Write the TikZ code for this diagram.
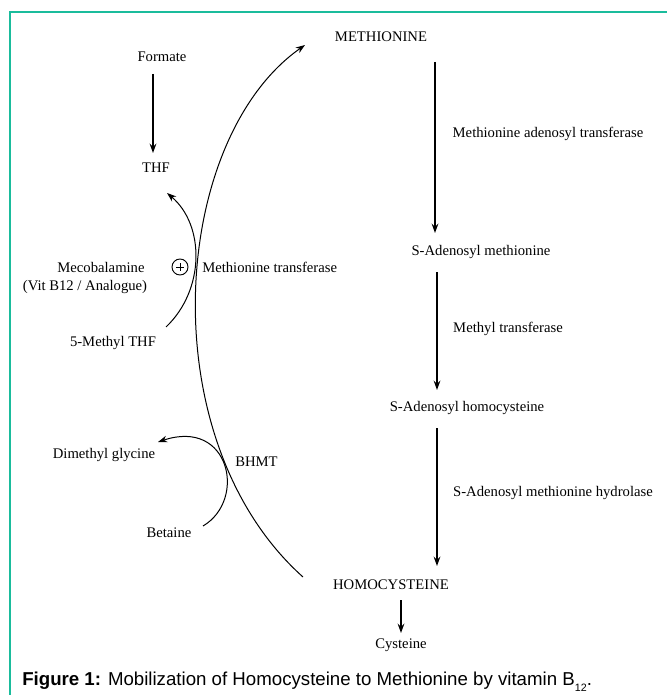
\documentclass[tikz,border=0pt]{standalone}
\usepackage{fontspec}
\setmainfont{Liberation Serif}
\newfontfamily\capfont{Liberation Sans}
\usetikzlibrary{arrows.meta,calc}
\definecolor{frameteal}{RGB}{26,188,156}
\begin{document}
\begin{tikzpicture}[x=0.75pt,y=-0.75pt,
  lbl/.style={font=\fontsize{11}{13}\selectfont, inner sep=0pt},
  bigarrow/.style={line width=2pt, -{Stealth[length=7pt,width=5pt]}},
  curvearrow/.style={line width=0.75pt, -{Stealth[length=7pt,width=5pt]}}]
\useasboundingbox (0,0) rectangle (667,695);
% frame
\draw[frameteal, line width=1.5pt] (10,695) -- (10,12) -- (667,12);
% labels
\node[lbl] (met) at (381,37) {METHIONINE};
\node[lbl] (formate) at (162,57) {Formate};
\node[lbl] (thf) at (156,168) {THF};
\node[lbl] (mat) at (548,134) {Methionine adenosyl transferase};
\node[lbl] (sam) at (481,252) {S-Adenosyl methionine};
\node[lbl] (mecob) at (101,267) {Mecobalamine};
\node[lbl] (vit) at (85,287) {(Vit B12 / Analogue)};
\node[lbl, anchor=west] (mtr) at (202,267) {Methionine transferase};
\node[lbl] (mthf) at (113,343) {5-Methyl THF};
\node[lbl] (mt) at (508,329) {Methyl transferase};
\node[lbl] (sah) at (467,408) {S-Adenosyl homocysteine};
\node[lbl] (dmg) at (104,455) {Dimethyl glycine};
\node[lbl, anchor=west] (bhmt) at (235,462) {BHMT};
\node[lbl] (sahh) at (553,493) {S-Adenosyl methionine hydrolase};
\node[lbl] (bet) at (169,533) {Betaine};
\node[lbl] (hcy) at (391,585) {HOMOCYSTEINE};
\node[lbl] (cys) at (401,645) {Cysteine};
% plus symbol
\node[circle, draw, line width=0.7pt, minimum size=12pt, inner sep=0pt] (plus) at (180,267) {};
\draw[line width=0.7pt] ($(plus.center)+(-4,0)$) -- ($(plus.center)+(4,0)$);
\draw[line width=0.7pt] ($(plus.center)+(0,-4)$) -- ($(plus.center)+(0,4)$);
% straight arrows
\coordinate (f1) at (153,74);
\coordinate (f2) at (153,153);
\draw[bigarrow] (f1) -- (f2);
\coordinate (r1s) at (435,62);
\coordinate (r1e) at (435,233);
\draw[bigarrow] (r1s) -- (r1e);
\coordinate (r2s) at (437,272);
\coordinate (r2e) at (437,390);
\draw[bigarrow] (r2s) -- (r2e);
\coordinate (r3s) at (437,428);
\coordinate (r3e) at (437,566);
\draw[bigarrow] (r3s) -- (r3e);
\coordinate (c1s) at (401,600);
\coordinate (c1e) at (401,633);
\draw[bigarrow] (c1s) -- (c1e);
% main curve homocysteine -> methionine
\coordinate (m0) at (303,577);
\coordinate (m1) at (305,45);
\draw[curvearrow] (m0) .. controls (150,440) and (170,140) .. (m1);
% 5-methyl THF -> THF
\coordinate (t0) at (166,327);
\coordinate (t1) at (167,193);
\draw[curvearrow] (t0) .. controls (205,290) and (205,225) .. (t1);
% Betaine -> Dimethyl glycine
\coordinate (b0) at (203,526);
\coordinate (b1) at (158,442);
\draw[curvearrow] (b0) .. controls (247,500) and (230,418) .. (b1);
% caption
\node[anchor=west, inner sep=0pt, font=\capfont\fontsize{14}{17}\selectfont] (cap) at (22,682)
  {\textbf{Figure 1:} Mobilization of Homocysteine to Methionine by vitamin B\raisebox{-0.6ex}{\fontsize{8}{9}\selectfont 12}.};
\end{tikzpicture}
\end{document}
